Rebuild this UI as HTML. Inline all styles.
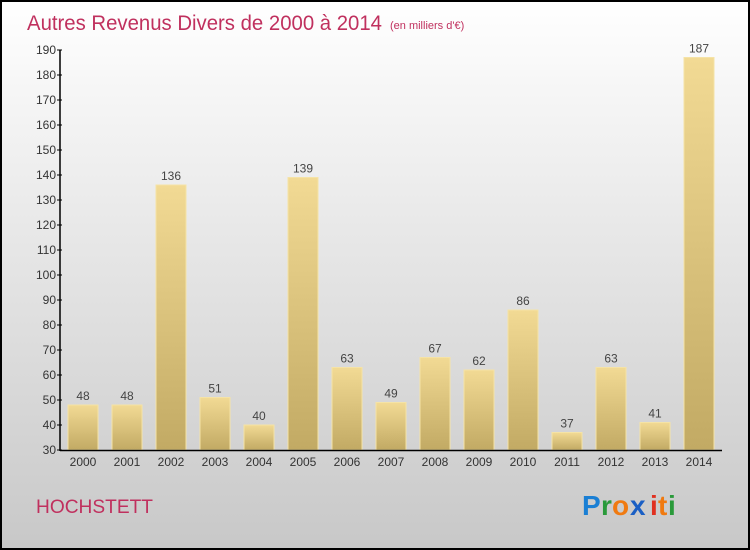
<!DOCTYPE html>
<html><head><meta charset="utf-8"><style>
body{margin:0;width:750px;height:550px;overflow:hidden;font-family:"Liberation Sans",sans-serif}
svg{display:block}
</style></head><body>
<svg width="750" height="550" xmlns="http://www.w3.org/2000/svg">
<defs>
<linearGradient id="bg" x1="0" y1="0" x2="0" y2="1"><stop offset="0" stop-color="#ffffff"/><stop offset="1" stop-color="#c8c8c8"/></linearGradient>
<linearGradient id="bar" x1="0" y1="0" x2="0" y2="1"><stop offset="0" stop-color="#f2da94"/><stop offset="1" stop-color="#c2aa64"/></linearGradient>
</defs>
<rect x="1" y="1" width="748" height="548" fill="url(#bg)" stroke="#000" stroke-width="2"/>
<text x="27" y="30" font-size="21" fill="#c0305e" textLength="355" lengthAdjust="spacingAndGlyphs">Autres Revenus Divers de 2000 à 2014</text>
<text x="390" y="29" font-size="11" fill="#c0305e">(en milliers d'€)</text>
<g id="plot"></g>
<text x="36" y="513" font-size="19" fill="#c0305e" textLength="117" lengthAdjust="spacingAndGlyphs">HOCHSTETT</text>
<g font-size="28" font-weight="bold" font-family="'Liberation Sans',sans-serif">
<text x="582" y="515" fill="#1a7fd4">P</text><text x="601" y="515" fill="#2a9a3a">r</text><text x="612" y="515" fill="#f07a10">o</text><text x="630" y="515" fill="#1a5fc4">x</text><text x="650" y="515" fill="#e03020">i</text><text x="658" y="515" fill="#f07a10">t</text><text x="668" y="515" fill="#2a9a3a">i</text>
</g>
</svg>
<script>
const years=["2000","2001","2002","2003","2004","2005","2006","2007","2008","2009","2010","2011","2012","2013","2014"];
const values=[48,48,136,51,40,139,63,49,67,62,86,37,63,41,187];
const yTicks=[30,40,50,60,70,80,90,100,110,120,130,140,150,160,170,180,190];
const NS="http://www.w3.org/2000/svg";
const g=document.getElementById('plot');
const y=v=>450-(v-30)*2.5;
const x=i=>83+i*44;
function el(t,a,txt){const e=document.createElementNS(NS,t);for(const k in a)e.setAttribute(k,a[k]);if(txt!==undefined)e.textContent=txt;g.appendChild(e);return e;}
values.forEach((v,i)=>{
 const r=el('rect',{x:x(i)-15,y:y(v),width:30,height:450-y(v),fill:'url(#bar)',stroke:'#f5e3a6','stroke-width':1});
 
 
 const t=el('text',{x:x(i),y:y(v)-5,'font-size':12,fill:'#444','text-anchor':'middle'},String(v));
 
 
 const xl=el('text',{x:x(i),y:466,'font-size':12,fill:'#333','text-anchor':'middle'},years[i]);
 
 
});
yTicks.forEach(v=>{
 const l=el('line',{x1:57,x2:62,y1:y(v),y2:y(v),stroke:'#000'});
 
 
 const t=el('text',{x:56,y:y(v)+4,'font-size':12,fill:'#333','text-anchor':'end'},String(v));
 
 
});
const ya=el('line',{x1:60,x2:60,y1:50,y2:451,stroke:'#000','stroke-width':1.5});


const xa=el('line',{x1:60,x2:722,y1:450.5,y2:450.5,stroke:'#000','stroke-width':1.5});


</script>
</body></html>
